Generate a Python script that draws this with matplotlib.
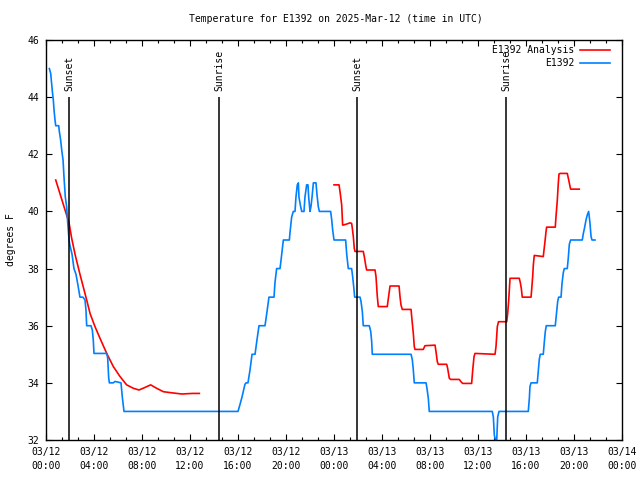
import matplotlib
matplotlib.use("Agg")
import matplotlib.pyplot as plt
from matplotlib.ticker import MultipleLocator, AutoMinorLocator
import numpy as np
from datetime import datetime, timedelta

station = "E1392"
start = datetime(2025, 3, 12, 0, 0)

# hours after 03/12 00:00 UTC, degrees F
obs_hours = [0.28, 0.39, 0.53, 0.61, 0.67, 0.75, 0.81, 1.06, 1.11, 1.22, 1.31, 1.42,
             1.50, 1.61, 1.72, 1.81, 1.92, 2.0, 2.17, 2.33, 2.5, 2.67, 2.83, 3.08,
             3.25, 3.33, 3.39, 3.75, 3.86, 3.94, 4.0, 5.06, 5.14, 5.22, 5.28, 5.61,
             5.75, 6.25, 6.36, 6.5, 16.0, 16.17, 16.33, 16.58, 16.67, 16.83, 17.0,
             17.17, 17.42, 17.58, 17.75, 18.25, 18.42, 18.58, 19.0, 19.08, 19.22,
             19.5, 19.56, 19.64, 19.72, 19.78, 20.28, 20.33, 20.39, 20.47, 20.61,
             20.75, 20.83, 20.94, 21.03, 21.08, 21.22, 21.31, 21.5, 21.58, 21.72,
             21.83, 21.89, 22.0, 22.08, 22.17, 22.28, 22.5, 22.58, 22.69, 22.78,
             23.72, 23.81, 23.89, 24.0, 24.97, 25.06, 25.19, 25.47, 25.56, 25.67,
             25.72, 26.17, 26.25, 26.36, 26.44, 26.94, 27.06, 27.14, 27.19, 30.42,
             30.53, 30.61, 30.69, 31.67, 31.75, 31.86, 31.94, 37.19, 37.28, 37.36,
             37.46, 37.56, 37.64, 37.75, 40.19, 40.28, 40.33, 40.42, 40.94, 41.03,
             41.11, 41.19, 41.44, 41.53, 41.61, 41.69, 42.44, 42.56, 42.64, 42.72,
             42.92, 43.0, 43.11, 43.19, 43.44, 43.53, 43.61, 43.72, 44.69, 44.78,
             44.89, 45.0, 45.11, 45.22, 45.33, 45.42, 45.5, 45.75]
obs_temp = [45.0, 44.83, 44.2, 43.9, 43.55, 43.2, 43.0, 43.0, 42.8, 42.5, 42.15, 41.8,
            41.2, 40.5, 40.17, 39.6, 39.0, 38.8, 38.5, 38.0, 37.8, 37.4, 37.0, 37.0,
            36.9, 36.55, 36.0, 36.0, 35.85, 35.5, 35.03, 35.03, 34.87, 34.2, 34.0, 34.0,
            34.05, 34.0, 33.5, 33.0, 33.0, 33.25, 33.5, 33.95, 34.0, 34.0, 34.45,
            35.0, 35.0, 35.5, 36.0, 36.0, 36.5, 37.0, 37.0, 37.5, 38.0,
            38.0, 38.2, 38.5, 38.77, 39.0, 39.0, 39.25, 39.5, 39.8, 40.0,
            40.0, 40.5, 40.93, 41.0, 40.5, 40.17, 40.0, 40.0, 40.5, 40.93,
            40.93, 40.5, 40.0, 40.17, 40.5, 41.0, 41.0, 40.6, 40.17, 40.0,
            40.0, 39.7, 39.35, 39.0, 39.0, 38.5, 38.0, 38.0, 37.7, 37.25,
            37.0, 37.0, 36.85, 36.5, 36.0, 36.0, 35.8, 35.45, 35.0, 35.0,
            34.8, 34.45, 34.0, 34.0, 33.8, 33.46, 33.0, 33.0, 32.8, 32.17,
            32.0, 32.0, 32.8, 33.0, 33.0, 33.46, 33.87, 34.0, 34.0, 34.45,
            34.83, 35.0, 35.0, 35.45, 35.8, 36.0, 36.0, 36.5, 36.85, 37.0,
            37.0, 37.48, 37.86, 38.0, 38.0, 38.4, 38.85, 39.0, 39.0, 39.23,
            39.45, 39.7, 39.88, 40.0, 39.6, 39.12, 39.0, 39.0]

# analysis, gap between the two runs
ana_hours = [0.81, 1.92, 2.14, 2.42, 2.83, 3.39, 3.67, 4.08, 4.5, 5.06, 5.61, 6.17,
             6.72, 7.28, 7.75, 8.25, 8.72, 9.22, 9.78, 10.33, 11.31, 12.22, 12.78,
             18.0,
             24.0, 24.42, 24.5, 24.64, 24.72, 25.0, 25.33, 25.47, 25.53, 25.61, 25.69,
             25.75, 26.44, 26.53, 26.64, 26.72, 27.42, 27.5, 27.61, 27.69, 28.44,
             28.53, 28.67, 29.42, 29.5, 29.58, 29.69, 30.42, 30.5, 30.61, 30.69,
             30.75, 31.44, 31.58, 32.42, 32.5, 32.61, 32.69, 33.39, 33.47, 33.61,
             33.72, 34.44, 34.58, 34.72, 35.47, 35.56, 35.67, 35.75, 37.42, 37.5,
             37.61, 37.71, 38.39, 38.47, 38.56, 38.67, 39.44, 39.53, 39.61, 39.69,
             40.42, 40.47, 40.56, 40.61, 40.69, 41.44, 41.5, 41.58, 41.67, 41.72,
             42.44, 42.5, 42.61, 42.69, 42.75, 42.83, 43.44, 43.56, 43.67, 43.72,
             44.44]
ana_temp = [41.1, 39.6, 39.06, 38.5, 37.8, 36.9, 36.43, 35.97, 35.56, 35.03, 34.57, 34.22,
            33.93, 33.81, 33.75, 33.84, 33.93, 33.81, 33.69, 33.66, 33.61, 33.63, 33.63,
            np.nan,
            40.93, 40.93, 40.7, 40.23, 39.52, 39.55, 39.6, 39.58, 39.4, 39.12, 38.71,
            38.6, 38.6, 38.41, 38.12, 37.95, 37.95, 37.72, 37.02, 36.67, 36.67,
            36.96, 37.39, 37.39, 37.02, 36.73, 36.57, 36.57, 36.2, 35.73, 35.27,
            35.17, 35.17, 35.3, 35.32, 35.09, 34.74, 34.65, 34.65, 34.51, 34.16,
            34.12, 34.12, 34.04, 33.98, 33.98, 34.45, 34.92, 35.03, 35.0, 35.27,
            35.97, 36.14, 36.14, 36.41, 36.9, 37.66, 37.66, 37.5, 37.3, 37.0,
            37.0, 37.25, 37.74, 38.12, 38.46, 38.42, 38.65, 38.94, 39.3, 39.45,
            39.45, 39.82, 40.4, 40.98, 41.31, 41.33, 41.33, 41.1, 40.87, 40.78,
            40.78]

sun_hours = [1.92, 14.42, 25.92, 38.33]
sun_names = ["Sunset", "Sunrise", "Sunset", "Sunrise"]

plt.rcParams['font.family'] = 'DejaVu Sans Mono'
plt.rcParams['font.size'] = 7

fig = plt.figure(figsize=(6.4, 4.8), dpi=100)
ax = fig.add_axes([46/640, 40/480, 576/640, 400/480])

ax.plot(ana_hours, ana_temp, color="#ff0000", lw=1.2)
ax.plot(obs_hours, obs_temp, color="#0080ff", lw=1.2)

for h, name in zip(sun_hours, sun_names):
    ax.vlines(h, 32, 44, color="black", lw=1.1)
    ax.text(h, 44.2, name, rotation=90, ha="center", va="bottom")

ax.set_xlim(0, 48)
ax.set_ylim(32, 46)
ax.xaxis.set_major_locator(MultipleLocator(4))
ax.xaxis.set_minor_locator(AutoMinorLocator(3))
ax.yaxis.set_major_locator(MultipleLocator(2))
ticks = np.arange(0, 49, 4)
ax.set_xticks(ticks)
ax.set_xticklabels([(start + timedelta(hours=int(t))).strftime("%m/%d\n%H:%M") for t in ticks])
for lab in ax.get_xticklabels():
    lab.set_linespacing(1.5)
ax.tick_params(which="both", direction="in", top=True, right=True, color="black")
ax.tick_params(which="major", length=4, width=0.8, pad=5)
ax.tick_params(which="minor", length=2, width=0.8)
for s in ax.spines.values():
    s.set_linewidth(1.0)

ax.set_ylabel("degrees F")
ax.yaxis.set_label_coords(-0.052, 0.5)
fig.text(336/640, 1 - 19/480, f"Temperature for {station} on 2025-Mar-12 (time in UTC)",
         ha="center", va="center")

# key
ax.text(0.917, 0.975, f"{station} Analysis", transform=ax.transAxes, ha="right", va="center")
ax.plot([0.927, 0.979], [0.975, 0.975], color="#ff0000", lw=1.2, transform=ax.transAxes)
ax.text(0.917, 0.9425, station, transform=ax.transAxes, ha="right", va="center")
ax.plot([0.927, 0.979], [0.9425, 0.9425], color="#0080ff", lw=1.2, transform=ax.transAxes)

plt.savefig("out.png", dpi=100)
